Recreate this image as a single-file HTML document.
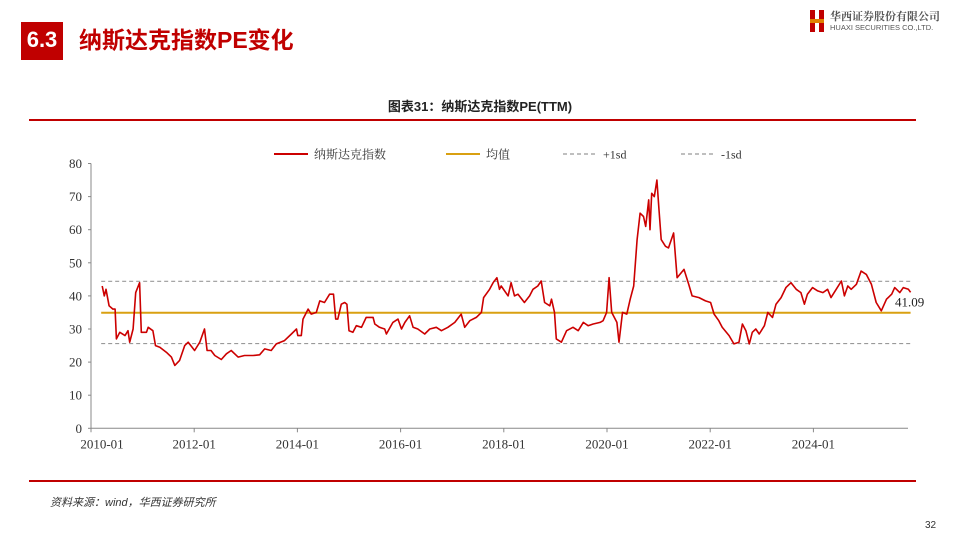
<!DOCTYPE html>
<html><head><meta charset="utf-8"><style>
body{margin:0;width:960px;height:540px;background:#fff;position:relative;overflow:hidden;font-family:"Liberation Sans","Noto Sans CJK SC",sans-serif}
.abs{position:absolute}
</style></head><body>
<div class="abs" style="left:21px;top:22px;width:42px;height:38px;background:#c00000;color:#fff;font-weight:bold;font-size:22px;line-height:36px;text-align:center">6.3</div>
<div class="abs" style="left:79px;top:24px;font-size:23px;font-weight:bold;color:#c00000;line-height:32px">纳斯达克指数PE变化</div>
<div class="abs" style="left:810px;top:8px;width:140px;height:26px">
  <div class="abs" style="left:0;top:2px;width:5px;height:22px;background:#c00000"></div>
  <div class="abs" style="left:9px;top:2px;width:5px;height:22px;background:#c00000"></div>
  <div class="abs" style="left:0;top:11px;width:14px;height:4px;background:#e08000"></div>
  <div class="abs" style="left:20px;top:0;font-size:11px;color:#555;font-family:'Noto Serif CJK SC',serif;font-weight:bold">华西证券股份有限公司</div>
  <div class="abs" style="left:20px;top:15px;font-size:7.5px;color:#555;white-space:nowrap">HUAXI SECURITIES CO.,LTD.</div>
</div>
<div class="abs" style="left:0;width:960px;top:96px;text-align:center;font-size:13px;font-weight:bold;color:#222">图表31：纳斯达克指数PE(TTM)</div>
<div class="abs" style="left:29px;top:119px;width:887px;height:2px;background:#c00000"></div>
<div class="abs" style="left:29px;top:480px;width:887px;height:2px;background:#c00000"></div>
<div class="abs" style="left:50px;top:494px;font-size:11px;font-style:italic;color:#333">资料来源：wind，华西证券研究所</div>
<div class="abs" style="left:925px;top:520px;font-size:10px;color:#333">32</div>
<svg id="chart" class="abs" style="left:0;top:0" width="960" height="540"></svg>
<script>
const monthsSince2010=[2.6,3.1,3.5,4.2,5.1,5.6,5.9,6.7,7.9,8.6,9,9.8,10.4,11.3,11.7,12.9,13.3,14.4,15,16,17.5,18.7,19.5,20.6,21.8,22.6,24.1,25.3,26.4,27,27.9,28.8,30.3,31.5,32.6,34.2,35.7,37.7,39.2,40.4,41.9,43.1,45,46.6,47.8,48.1,48.9,49.3,50.5,51.2,52.4,53.2,54.3,55.5,56.4,56.9,57.4,58.2,59,59.5,60,60.9,61.7,62.9,64,65.6,66,67.1,68.3,68.7,70.2,71.4,72.2,73,74.1,74.9,76,77.6,78.8,80.3,81.5,83,84.6,86.1,86.9,88.1,89.6,90.8,91.3,92.7,93.5,94.4,95,95.4,97,97.7,98.5,99.3,100.8,102,102.8,103.9,104.7,105.5,106.7,107.1,107.8,108.2,109.4,110.6,112.1,113.3,114.5,115.6,116.8,118.4,119.1,119.9,120.5,121.1,122.3,122.8,123.6,124.6,125.4,126.2,127,127.7,128.5,129,129.7,130,130.4,131,131.6,132.1,132.6,133.6,134.3,135.5,136.3,137.9,139,139.8,141.4,142.9,144.1,144.9,146,146.8,148.4,149.5,150.7,151.5,152.3,153.1,153.8,154.6,155.4,156.6,157.4,158.5,159.3,160.5,161.6,162.8,164,165.1,165.9,166.6,167.8,169,170.2,171.3,172.1,173.3,174.5,175.2,176,176.8,178,179.1,180.3,181.5,182.6,183.8,185,186.2,186.9,188.1,188.9,190.1,190.6];
const peValues=[43,40,42,37,36,36,27,29,28,29.5,26,30,41,44,29,29,30.5,29.5,25,24.5,23,21.5,19,20.5,25,26,23.5,26,30,23.5,23.5,22,20.8,22.5,23.5,21.5,22,22,22.2,24,23.5,25.5,26.5,28.5,30,28,28,33,36,34.5,35,38.5,38,40.5,40.5,33,33,37.5,38,37.5,29.5,29,31,30.5,33.5,33.5,31.5,30.5,30,28.5,32,33,30,32,34,30.5,30,28.5,30,30.5,29.5,30.5,32,34.5,30.5,32.5,33.5,35,39.5,42,44,45.5,42,43,40,44,40,40.5,38,40,42,43,44.5,38,37,39,35,27,26,29.5,30.5,29.5,32,31,31.5,32,32.5,35,45.5,35,32,26,35,34.5,39,43,57,65,64,61,69,60,71,70,75,66,57,55,54.5,59,45.5,48,43.5,40,39.5,38.5,38,34.5,32.5,30.5,28,25.5,26,31.5,29.5,25.5,29,30,28.5,31,35,33.5,37.5,39.5,42.5,44,42,41,37.5,40.5,42.5,41.5,41,42,39.5,42,44.5,40,43,42,43.5,47.5,46.5,43.5,38,35.5,39,40.5,42.5,41,42.5,42,41.09];
const meanValue=34.9, plusSd=44.4, minusSd=25.6;
const yTicks=[0,10,20,30,40,50,60,70,80];
const xTickLabels=["2010-01","2012-01","2014-01","2016-01","2018-01","2020-01","2022-01","2024-01"];
const xTickMonths=[0,24,48,72,96,120,144,168];
const lastLabel="41.09";
const NS="http://www.w3.org/2000/svg";
const svg=document.getElementById('chart');
const X0=91,PXM=4.3,Y0=428.3,PXV=3.31,XEND=908;
const xs=m=>X0+m*PXM, ys=v=>Y0-v*PXV;
function mk(t,a,p){const e=document.createElementNS(NS,t);for(const k in a)e.setAttribute(k,a[k]);(p||svg).appendChild(e);return e;}
const font='"Liberation Serif","Noto Serif CJK SC",serif';
// axes
let ax=mk('line',{x1:X0,y1:ys(80),x2:X0,y2:Y0,stroke:'#888','stroke-width':1});


let bx=mk('line',{x1:X0,y1:Y0,x2:XEND,y2:Y0,stroke:'#888','stroke-width':1});


yTicks.forEach(v=>{
  mk('line',{x1:X0-3,y1:ys(v),x2:X0,y2:ys(v),stroke:'#888'});
  const t=mk('text',{x:X0-9,y:ys(v)+4.5,'text-anchor':'end','font-size':13,fill:'#333','font-family':font});
  t.textContent=v;
  
  
});
xTickMonths.forEach((m,i)=>{
  mk('line',{x1:xs(m),y1:Y0,x2:xs(m),y2:Y0+4,stroke:'#888'});
  const t=mk('text',{x:i==0?xs(m)+11:xs(m),y:Y0+20,'text-anchor':'middle','font-size':13,fill:'#333','font-family':font});
  t.textContent=xTickLabels[i];
  
  
});
const x1=xs(monthsSince2010[0])-1, x2=xs(monthsSince2010[monthsSince2010.length-1]);
let l;
l=mk('line',{x1:x1,y1:ys(plusSd),x2:x2,y2:ys(plusSd),stroke:'#999','stroke-width':1.2,'stroke-dasharray':'4,3'});


l=mk('line',{x1:x1,y1:ys(minusSd),x2:x2,y2:ys(minusSd),stroke:'#999','stroke-width':1.2,'stroke-dasharray':'4,3'});


l=mk('line',{x1:x1,y1:ys(meanValue),x2:x2,y2:ys(meanValue),stroke:'#d9a011','stroke-width':2});


const pts=monthsSince2010.map((m,i)=>xs(m).toFixed(1)+','+ys(peValues[i]).toFixed(1)).join(' ');
l=mk('polyline',{points:pts,fill:'none',stroke:'#cc0000','stroke-width':1.6,'stroke-linejoin':'round'});


const lt=mk('text',{x:895,y:ys(peValues[peValues.length-1])+14,'font-size':13,fill:'#222','font-family':font});
lt.textContent=lastLabel;


// legend
const leg=[["纳斯达克指数",'#cc0000',null,274,2],["均值",'#d9a011',null,446,2],["+1sd",'#999','4,3',563,1.2],["-1sd",'#999','4,3',681,1.2]];
leg.forEach(d=>{
  const g=mk('g',{});
  
  
  const a={x1:d[3],y1:154,x2:d[3]+34,y2:154,stroke:d[1],'stroke-width':d[4]};
  if(d[2])a['stroke-dasharray']=d[2];
  mk('line',a,g);
  const t=mk('text',{x:d[3]+40,y:158.5,'font-size':12,fill:'#333','font-family':font},g);
  t.textContent=d[0];
});
</script>
</body></html>
